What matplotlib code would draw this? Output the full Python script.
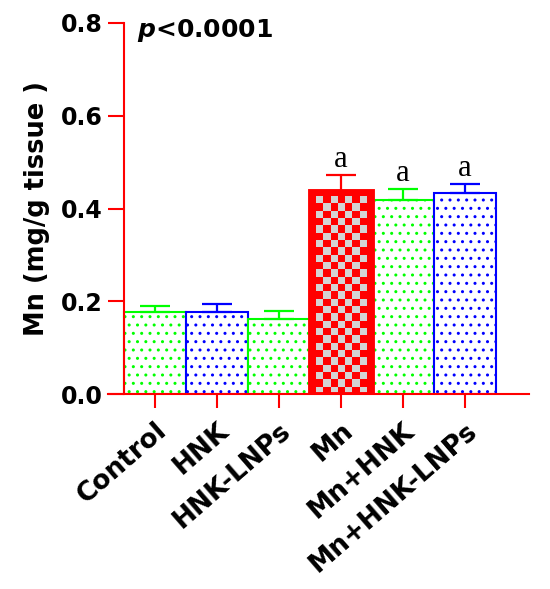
import matplotlib
matplotlib.use('Agg')
import matplotlib.pyplot as plt
import numpy as np

# ---------------- data ----------------
groups = ['Control', 'HNK', 'HNK-LNPs', 'Mn', 'Mn+HNK', 'Mn+HNK-LNPs']
means = [0.176, 0.176, 0.162, 0.438, 0.418, 0.433]
errors = [0.014, 0.017, 0.016, 0.034, 0.024, 0.019]
sig_letters = ['', '', '', 'a', 'a', 'a']
y_ticks = [0.0, 0.2, 0.4, 0.6, 0.8]
y_tick_labels = ['0.0', '0.2', '0.4', '0.6', '0.8']
p_text = r'$\bfit{p}$<0.0001'
y_label = 'Mn (mg/g tissue )'

# ---------------- styles ----------------
colors = ['#00ff00', '#0000ff', '#00ff00', '#ff0000', '#00ff00', '#0000ff']
fills = ['dots', 'dots', 'dots', 'checker', 'dots', 'dots']
RED = '#ff0000'
GREY = '#d4d4d4'

plt.rcParams['font.family'] = ['DejaVu Sans']
plt.rcParams['font.weight'] = 'bold'
plt.rcParams['hatch.linewidth'] = 1.0
plt.rcParams['mathtext.fontset'] = 'dejavusans'

fig = plt.figure(figsize=(5.5, 5.89), dpi=100)
ax = fig.add_axes([108 / 550, 1 - 394 / 589, 421 / 550, 371 / 589])

x = np.arange(len(groups))
XLIM = (-0.5 - 16 / 62, -0.5 + 405 / 62)

for i, (m, e, c, f) in enumerate(zip(means, errors, colors, fills)):
    if f == 'dots':
        ax.bar(x[i], m, width=1.0, facecolor='white', edgecolor=c,
               hatch='..', linewidth=1.5, zorder=2)
    else:
        bar = ax.bar(x[i], m, width=1.0, facecolor=c, edgecolor=c,
                     linewidth=0, zorder=2)[0]
        x0, w, h = bar.get_x(), bar.get_width(), bar.get_height()
        ix0, ix1 = x0 + 0.09 * w, x0 + 0.91 * w
        iy1 = h - 0.013
        nx = 7
        ny = int(round(iy1 / 0.0155))
        ii, jj = np.meshgrid(np.arange(nx), np.arange(ny))
        checker = ((ii + jj) % 2 == 0)
        img = np.zeros((ny, nx, 3))
        img[checker] = np.array(matplotlib.colors.to_rgb(GREY))
        img[~checker] = np.array(matplotlib.colors.to_rgb(RED))
        ax.imshow(img, extent=(ix0, ix1, 0, iy1), origin='upper',
                  interpolation='nearest', aspect='auto', zorder=2.5)
        ax.bar(x[i], m, width=1.0, fill=False, edgecolor=c,
               linewidth=3.5, zorder=3)
    ax.errorbar(x[i], m, yerr=[[0], [e]], fmt='none', ecolor=c,
                elinewidth=1.6, capsize=10.5, capthick=1.6, zorder=3)
    if sig_letters[i]:
        ax.text(x[i], m + e + 0.018, sig_letters[i], ha='center', va='baseline',
                family='Liberation Serif', fontweight='normal', fontsize=22)

ax.set_xlim(*XLIM)
ax.set_ylim(0, 0.8)

for s in ['top', 'right']:
    ax.spines[s].set_visible(False)
ax.spines['left'].set_position(('data', -0.5))
for s in ['left', 'bottom']:
    ax.spines[s].set_color(RED)
    ax.spines[s].set_linewidth(1.5)

ax.set_yticks(y_ticks)
ax.set_yticklabels(y_tick_labels)
ax.set_xticks(x)
ax.set_xticklabels(groups, rotation=41, ha='right', va='top',
                   rotation_mode='anchor')
ax.tick_params(axis='y', color=RED, labelcolor='black', length=11.5,
               width=1.5, direction='out', labelsize=17, pad=3.6)
ax.tick_params(axis='x', color=RED, labelcolor='black', length=10,
               width=1.5, direction='out', labelsize=19, pad=7)
for lab in ax.get_xticklabels() + ax.get_yticklabels():
    lab.set_fontweight('bold')

ax.set_ylabel(y_label, fontsize=18.5, fontweight='bold')
ax.yaxis.set_label_coords((50 - 108) / 421, 0.5)

ax.text(-0.29, 0.770, p_text, ha='left', va='baseline', fontsize=18,
        fontweight='bold')

fig.savefig('out.png', dpi=100)
